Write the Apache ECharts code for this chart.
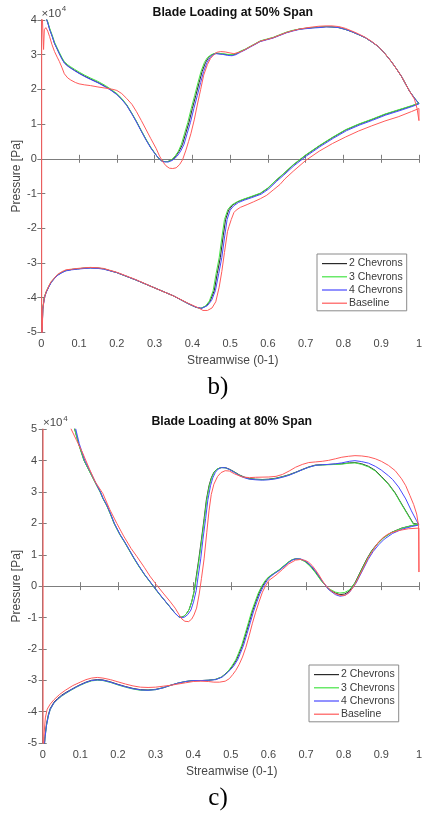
<!DOCTYPE html>
<html>
<head>
<meta charset="utf-8">
<script src="https://cdn.jsdelivr.net/npm/echarts@6/dist/echarts.min.js"></script>
<style>
  html, body { margin: 0; padding: 0; background: #ffffff; }
  #chart { width: 425px; height: 817px; }
</style>
</head>
<body>
<div id="chart"></div>
<script>
// ---------------------------------------------------------------
// Blade loading data: static pressure (x10^4 Pa) against the
// streamwise coordinate (0-1). Each curve is a closed loop around
// the blade section: lower branch from leading to trailing edge,
// then back along the upper branch.
// ---------------------------------------------------------------
const seriesNames = ['2 Chevrons', '3 Chevrons', '4 Chevrons', 'Baseline'];
const streamwiseTicks = [0, 0.1, 0.2, 0.3, 0.4, 0.5, 0.6, 0.7, 0.8, 0.9, 1];
const pressureTicks50 = [-5, -4, -3, -2, -1, 0, 1, 2, 3, 4];
const pressureTicks80 = [-5, -4, -3, -2, -1, 0, 1, 2, 3, 4, 5];
const panelTitles = ['Blade Loading at 50% Span', 'Blade Loading at 80% Span'];
const panelCaptions = ['b)', 'c)'];
const xAxisName = 'Streamwise (0-1)';
const yAxisName = 'Pressure [Pa]';

// ----- 50% span -----
const chev2_span50 = [
  [0.001,-5.4],[0.004,-4.32],[0.008,-4.0],[0.013,-3.84],[0.02,-3.68],[0.026,-3.56],[0.035,-3.44],[0.043,-3.35],
  [0.055,-3.27],[0.065,-3.22],[0.08,-3.19],[0.096,-3.17],[0.115,-3.15],[0.13,-3.14],[0.15,-3.15],[0.165,-3.17],
  [0.2,-3.28],[0.25,-3.49],[0.3,-3.72],[0.35,-3.95],[0.39,-4.18],[0.41,-4.28],[0.423,-4.31],[0.437,-4.24],
  [0.447,-4.1],[0.458,-3.8],[0.466,-3.3],[0.474,-2.85],[0.482,-2.2],[0.488,-1.75],[0.496,-1.48],[0.506,-1.34],
  [0.52,-1.24],[0.536,-1.17],[0.555,-1.1],[0.58,-1.0],[0.6,-0.85],[0.62,-0.64],[0.64,-0.45],[0.667,-0.18],
  [0.7,0.1],[0.736,0.37],[0.771,0.61],[0.806,0.83],[0.84,0.99],[0.875,1.13],[0.91,1.28],[0.945,1.4],[0.98,1.52],[1.0,1.6],
  [0.997,1.62],[0.988,1.75],[0.975,1.95],[0.965,2.15],[0.954,2.37],[0.94,2.6],[0.927,2.8],[0.91,3.03],[0.893,3.23],
  [0.875,3.37],[0.858,3.49],[0.84,3.58],[0.823,3.66],[0.805,3.73],[0.788,3.78],[0.77,3.8],[0.754,3.81],[0.735,3.79],
  [0.719,3.78],[0.7,3.76],[0.684,3.74],[0.665,3.69],[0.649,3.64],[0.63,3.56],[0.614,3.49],[0.597,3.44],[0.58,3.39],
  [0.565,3.3],[0.553,3.23],[0.54,3.15],[0.527,3.09],[0.515,3.02],[0.505,2.99],[0.493,3.0],[0.48,3.02],[0.47,3.03],
  [0.461,3.04],[0.452,3.0],[0.443,2.92],[0.435,2.78],[0.426,2.52],[0.418,2.2],[0.409,1.82],[0.4,1.45],[0.391,1.05],
  [0.382,0.72],[0.374,0.42],[0.365,0.22],[0.357,0.09],[0.346,-0.03],[0.335,-0.08],[0.325,-0.08],[0.317,-0.05],
  [0.308,0.05],[0.3,0.17],[0.29,0.32],[0.278,0.54],[0.265,0.8],[0.252,1.07],[0.24,1.3],[0.226,1.55],[0.213,1.72],
  [0.2,1.86],[0.185,1.98],[0.17,2.08],[0.15,2.2],[0.13,2.3],[0.115,2.38],[0.1,2.47],[0.088,2.55],[0.078,2.62],
  [0.07,2.68],[0.061,2.77],[0.055,2.88],[0.048,3.03],[0.042,3.17],[0.035,3.33],[0.029,3.53],[0.022,3.74],
  [0.017,3.93],[0.013,4.05],[0.009,4.3]
];
const chev3_span50 = [
  [0.001,-5.4],[0.004,-4.3],[0.008,-3.98],[0.013,-3.83],[0.02,-3.67],[0.026,-3.55],[0.035,-3.44],[0.043,-3.35],
  [0.055,-3.27],[0.065,-3.22],[0.08,-3.19],[0.096,-3.17],[0.115,-3.15],[0.13,-3.14],[0.15,-3.15],[0.165,-3.17],
  [0.2,-3.28],[0.25,-3.49],[0.3,-3.72],[0.35,-3.95],[0.39,-4.18],[0.41,-4.28],[0.422,-4.31],[0.435,-4.24],
  [0.445,-4.1],[0.455,-3.8],[0.463,-3.3],[0.471,-2.85],[0.479,-2.2],[0.485,-1.75],[0.494,-1.46],[0.504,-1.33],
  [0.52,-1.23],[0.536,-1.16],[0.555,-1.09],[0.58,-0.99],[0.6,-0.84],[0.62,-0.63],[0.64,-0.44],[0.667,-0.17],
  [0.7,0.11],[0.736,0.38],[0.771,0.62],[0.806,0.84],[0.84,1.0],[0.875,1.14],[0.91,1.29],[0.945,1.41],[0.98,1.53],[1.0,1.6],
  [0.997,1.62],[0.988,1.75],[0.975,1.95],[0.965,2.15],[0.954,2.37],[0.94,2.6],[0.927,2.8],[0.91,3.03],[0.893,3.23],
  [0.875,3.37],[0.858,3.49],[0.84,3.58],[0.823,3.66],[0.805,3.73],[0.788,3.78],[0.77,3.8],[0.754,3.81],[0.735,3.79],
  [0.719,3.78],[0.7,3.76],[0.684,3.74],[0.665,3.7],[0.649,3.65],[0.63,3.57],[0.614,3.5],[0.597,3.45],[0.58,3.4],
  [0.565,3.31],[0.553,3.24],[0.54,3.16],[0.527,3.1],[0.515,3.03],[0.505,3.0],[0.493,3.01],[0.48,3.03],[0.47,3.04],
  [0.461,3.04],[0.45,3.0],[0.44,2.92],[0.432,2.78],[0.423,2.52],[0.415,2.2],[0.406,1.82],[0.397,1.45],[0.388,1.05],
  [0.379,0.72],[0.371,0.42],[0.363,0.22],[0.355,0.09],[0.345,-0.03],[0.335,-0.08],[0.325,-0.08],[0.317,-0.05],
  [0.308,0.05],[0.3,0.17],[0.29,0.33],[0.278,0.55],[0.265,0.81],[0.252,1.08],[0.24,1.31],[0.226,1.56],[0.213,1.74],
  [0.2,1.88],[0.185,2.0],[0.17,2.11],[0.15,2.23],[0.13,2.33],[0.115,2.41],[0.1,2.5],[0.088,2.58],[0.078,2.65],
  [0.07,2.71],[0.061,2.8],[0.055,2.91],[0.048,3.06],[0.042,3.2],[0.035,3.36],[0.029,3.56],[0.022,3.77],
  [0.017,3.95],[0.013,4.07],[0.009,4.3]
];
const chev4_span50 = [
  [0.001,-5.4],[0.004,-4.34],[0.008,-4.02],[0.013,-3.85],[0.02,-3.69],[0.026,-3.57],[0.035,-3.45],[0.043,-3.36],
  [0.055,-3.28],[0.065,-3.23],[0.08,-3.2],[0.096,-3.18],[0.115,-3.16],[0.13,-3.15],[0.15,-3.16],[0.165,-3.18],
  [0.2,-3.28],[0.25,-3.49],[0.3,-3.72],[0.35,-3.95],[0.39,-4.18],[0.41,-4.28],[0.425,-4.31],[0.44,-4.23],
  [0.451,-4.08],[0.461,-3.8],[0.47,-3.3],[0.478,-2.85],[0.486,-2.2],[0.492,-1.75],[0.5,-1.48],[0.509,-1.36],
  [0.522,-1.26],[0.538,-1.19],[0.557,-1.12],[0.582,-1.02],[0.602,-0.87],[0.622,-0.66],[0.642,-0.47],[0.669,-0.2],
  [0.702,0.08],[0.738,0.35],[0.773,0.59],[0.808,0.81],[0.842,0.97],[0.877,1.11],[0.912,1.26],[0.947,1.38],[0.98,1.5],[1.0,1.58],
  [0.997,1.62],[0.988,1.75],[0.975,1.95],[0.965,2.15],[0.954,2.37],[0.94,2.6],[0.927,2.8],[0.91,3.03],[0.893,3.23],
  [0.875,3.37],[0.858,3.49],[0.84,3.58],[0.823,3.66],[0.805,3.73],[0.788,3.78],[0.77,3.8],[0.754,3.8],[0.735,3.78],
  [0.719,3.77],[0.7,3.75],[0.684,3.73],[0.665,3.68],[0.649,3.63],[0.63,3.55],[0.614,3.48],[0.597,3.43],[0.58,3.38],
  [0.565,3.29],[0.553,3.22],[0.54,3.14],[0.527,3.07],[0.515,3.0],[0.505,2.97],[0.493,2.98],[0.48,3.01],[0.47,3.02],
  [0.463,3.03],[0.455,3.0],[0.447,2.92],[0.439,2.78],[0.43,2.52],[0.422,2.2],[0.413,1.82],[0.404,1.45],[0.395,1.05],
  [0.386,0.72],[0.378,0.42],[0.369,0.22],[0.36,0.08],[0.348,-0.04],[0.337,-0.09],[0.327,-0.09],[0.318,-0.06],
  [0.309,0.04],[0.3,0.16],[0.29,0.31],[0.278,0.53],[0.265,0.79],[0.252,1.06],[0.24,1.29],[0.226,1.54],[0.213,1.71],
  [0.2,1.85],[0.185,1.97],[0.17,2.07],[0.15,2.19],[0.13,2.29],[0.115,2.37],[0.1,2.46],[0.088,2.54],[0.078,2.61],
  [0.07,2.67],[0.061,2.76],[0.055,2.87],[0.048,3.02],[0.042,3.16],[0.035,3.32],[0.029,3.52],[0.022,3.73],
  [0.017,3.92],[0.013,4.04],[0.009,4.3]
];
const base_span50 = [
  [0.001,-5.6],[0.001,4.6],[0.005,4.6],[0.006,3.15],[0.008,3.72],[0.012,3.78],[0.017,3.68],[0.022,3.52],[0.028,3.3],
  [0.035,3.09],[0.042,2.93],[0.048,2.8],[0.055,2.62],[0.061,2.45],[0.07,2.33],[0.078,2.27],[0.09,2.2],[0.1,2.16],
  [0.115,2.13],[0.13,2.11],[0.15,2.07],[0.174,2.03],[0.19,2.0],[0.2,1.97],[0.213,1.88],[0.226,1.74],[0.24,1.57],
  [0.252,1.36],[0.265,1.1],[0.278,0.83],[0.29,0.58],[0.304,0.3],[0.313,0.08],[0.322,-0.09],[0.33,-0.2],[0.339,-0.27],
  [0.348,-0.28],[0.357,-0.26],[0.366,-0.17],[0.374,-0.03],[0.383,0.25],[0.39,0.5],[0.396,0.72],[0.405,1.12],
  [0.413,1.55],[0.422,2.0],[0.43,2.41],[0.44,2.72],[0.448,2.89],[0.457,3.0],[0.465,3.07],[0.475,3.09],[0.487,3.08],
  [0.5,3.05],[0.51,3.03],[0.527,3.08],[0.54,3.15],[0.553,3.23],[0.565,3.3],[0.58,3.39],[0.597,3.44],[0.614,3.49],
  [0.63,3.56],[0.649,3.64],[0.665,3.69],[0.684,3.74],[0.7,3.77],[0.719,3.8],[0.735,3.82],[0.754,3.83],[0.77,3.83],
  [0.788,3.81],[0.805,3.76],[0.823,3.68],[0.84,3.6],[0.858,3.5],[0.875,3.38],[0.893,3.23],[0.91,3.03],[0.927,2.8],
  [0.94,2.6],[0.954,2.37],[0.965,2.15],[0.975,1.95],[0.988,1.72],[0.995,1.45],[1.0,1.1],
  [1.0,1.45],[0.98,1.36],[0.945,1.21],[0.91,1.09],[0.875,0.95],[0.84,0.8],[0.806,0.63],[0.771,0.44],[0.736,0.22],
  [0.701,-0.04],[0.667,-0.36],[0.645,-0.58],[0.632,-0.74],[0.614,-0.9],[0.597,-1.05],[0.58,-1.15],[0.562,-1.24],
  [0.545,-1.32],[0.527,-1.4],[0.516,-1.48],[0.51,-1.55],[0.503,-1.75],[0.497,-1.95],[0.493,-2.1],[0.485,-2.7],
  [0.478,-3.25],[0.471,-3.7],[0.462,-4.12],[0.452,-4.3],[0.44,-4.37],[0.428,-4.37],[0.417,-4.3],[0.39,-4.17],
  [0.35,-3.95],[0.3,-3.72],[0.25,-3.48],[0.2,-3.27],[0.165,-3.16],[0.15,-3.14],[0.13,-3.13],[0.115,-3.14],
  [0.096,-3.16],[0.08,-3.18],[0.065,-3.2],[0.055,-3.25],[0.043,-3.33],[0.035,-3.43],[0.026,-3.54],[0.02,-3.66],
  [0.013,-3.83],[0.008,-4.0],[0.004,-4.35],[0.001,-5.6]
];

// ----- 80% span -----
const chev2_span80 = [
  [0.003,-5.3],[0.006,-4.8],[0.01,-4.4],[0.015,-4.1],[0.02,-3.9],[0.03,-3.7],[0.04,-3.58],[0.05,-3.48],[0.06,-3.4],
  [0.075,-3.3],[0.09,-3.2],[0.1,-3.14],[0.115,-3.06],[0.13,-3.0],[0.145,-2.98],[0.16,-2.99],[0.18,-3.05],[0.2,-3.13],
  [0.22,-3.2],[0.24,-3.26],[0.26,-3.3],[0.28,-3.31],[0.3,-3.29],[0.32,-3.24],[0.34,-3.16],[0.36,-3.09],[0.38,-3.04],
  [0.4,-3.01],[0.42,-3.01],[0.44,-3.0],[0.46,-2.97],[0.475,-2.9],[0.49,-2.75],[0.504,-2.56],[0.515,-2.35],
  [0.522,-2.15],[0.531,-1.88],[0.54,-1.52],[0.549,-1.15],[0.557,-0.82],[0.566,-0.51],[0.575,-0.22],[0.584,0.0],
  [0.593,0.17],[0.601,0.29],[0.614,0.4],[0.628,0.51],[0.642,0.65],[0.654,0.77],[0.663,0.84],[0.672,0.87],
  [0.685,0.86],[0.698,0.79],[0.712,0.64],[0.725,0.45],[0.743,0.15],[0.76,-0.1],[0.778,-0.22],[0.79,-0.27],
  [0.803,-0.25],[0.815,-0.16],[0.831,0.13],[0.848,0.55],[0.862,0.88],[0.875,1.14],[0.89,1.36],[0.905,1.54],
  [0.928,1.72],[0.954,1.85],[0.981,1.93],[1.0,1.97],
  [0.998,1.93],[0.985,2.0],[0.97,2.3],[0.954,2.62],[0.937,2.97],[0.919,3.26],[0.9,3.5],[0.884,3.69],[0.866,3.82],
  [0.848,3.9],[0.83,3.94],[0.815,3.93],[0.795,3.9],[0.778,3.89],[0.76,3.88],[0.743,3.87],[0.725,3.86],[0.707,3.8],
  [0.69,3.72],[0.672,3.63],[0.654,3.55],[0.637,3.49],[0.619,3.44],[0.6,3.41],[0.584,3.4],[0.566,3.41],[0.549,3.43],
  [0.535,3.48],[0.522,3.55],[0.51,3.64],[0.496,3.73],[0.485,3.78],[0.473,3.78],[0.462,3.72],[0.455,3.63],
  [0.448,3.45],[0.442,3.2],[0.435,2.75],[0.429,2.15],[0.422,1.5],[0.415,0.87],[0.408,0.3],[0.403,-0.14],
  [0.396,-0.5],[0.389,-0.75],[0.382,-0.88],[0.375,-0.96],[0.368,-0.99],[0.362,-0.98],[0.35,-0.84],[0.34,-0.69],
  [0.327,-0.5],[0.31,-0.25],[0.294,0.0],[0.27,0.38],[0.255,0.65],[0.242,0.9],[0.23,1.15],[0.218,1.4],[0.205,1.65],
  [0.19,2.0],[0.18,2.3],[0.17,2.58],[0.16,2.8],[0.153,3.0],[0.14,3.3],[0.125,3.65],[0.11,4.0],[0.095,4.55],
  [0.083,5.1],[0.07,5.6],[0.05,6.4]
];
const chev3_span80 = [
  [0.003,-5.3],[0.006,-4.85],[0.01,-4.45],[0.015,-4.14],[0.02,-3.93],[0.03,-3.73],[0.04,-3.61],[0.05,-3.51],[0.06,-3.43],
  [0.075,-3.32],[0.09,-3.22],[0.1,-3.16],[0.115,-3.08],[0.13,-3.02],[0.145,-3.0],[0.16,-3.01],[0.18,-3.07],[0.2,-3.15],
  [0.22,-3.22],[0.24,-3.28],[0.26,-3.32],[0.28,-3.32],[0.3,-3.3],[0.32,-3.24],[0.34,-3.16],[0.36,-3.09],[0.38,-3.04],
  [0.4,-3.01],[0.42,-3.01],[0.44,-3.0],[0.46,-2.97],[0.475,-2.9],[0.49,-2.76],[0.502,-2.56],[0.513,-2.35],
  [0.52,-2.15],[0.529,-1.88],[0.538,-1.52],[0.547,-1.15],[0.555,-0.82],[0.564,-0.51],[0.573,-0.22],[0.582,0.0],
  [0.591,0.17],[0.6,0.29],[0.613,0.4],[0.627,0.51],[0.641,0.65],[0.653,0.77],[0.662,0.84],[0.671,0.87],
  [0.684,0.86],[0.697,0.78],[0.711,0.63],[0.724,0.44],[0.742,0.14],[0.76,-0.08],[0.778,-0.19],[0.79,-0.22],
  [0.803,-0.2],[0.815,-0.12],[0.832,0.13],[0.849,0.55],[0.863,0.88],[0.876,1.14],[0.891,1.36],[0.906,1.54],
  [0.929,1.72],[0.955,1.85],[0.981,1.93],[1.0,1.97],
  [0.998,1.93],[0.985,1.98],[0.97,2.28],[0.954,2.6],[0.937,2.95],[0.919,3.24],[0.9,3.48],[0.884,3.67],[0.866,3.8],
  [0.848,3.88],[0.83,3.93],[0.815,3.92],[0.795,3.89],[0.778,3.88],[0.76,3.87],[0.743,3.86],[0.725,3.85],[0.707,3.79],
  [0.69,3.71],[0.672,3.62],[0.654,3.54],[0.637,3.48],[0.619,3.43],[0.6,3.4],[0.584,3.39],[0.566,3.4],[0.549,3.42],
  [0.535,3.47],[0.522,3.54],[0.51,3.63],[0.496,3.72],[0.485,3.77],[0.474,3.78],[0.463,3.73],[0.456,3.63],
  [0.449,3.45],[0.443,3.2],[0.436,2.75],[0.43,2.15],[0.423,1.5],[0.416,0.87],[0.409,0.3],[0.403,-0.14],
  [0.396,-0.5],[0.389,-0.75],[0.382,-0.88],[0.375,-0.96],[0.368,-0.99],[0.362,-0.98],[0.35,-0.84],[0.34,-0.69],
  [0.327,-0.5],[0.31,-0.26],[0.294,-0.01],[0.27,0.37],[0.255,0.64],[0.242,0.89],[0.23,1.14],[0.218,1.39],[0.205,1.64],
  [0.19,1.99],[0.18,2.29],[0.17,2.57],[0.16,2.79],[0.153,2.99],[0.14,3.29],[0.125,3.64],[0.11,4.0],[0.095,4.55],
  [0.083,5.1],[0.07,5.6],[0.05,6.4]
];
const chev4_span80 = [
  [0.003,-5.3],[0.006,-4.85],[0.01,-4.45],[0.015,-4.14],[0.02,-3.93],[0.03,-3.72],[0.04,-3.6],[0.05,-3.5],[0.06,-3.42],
  [0.075,-3.31],[0.09,-3.21],[0.1,-3.15],[0.115,-3.07],[0.13,-3.01],[0.145,-2.99],[0.16,-3.0],[0.18,-3.06],[0.2,-3.14],
  [0.22,-3.21],[0.24,-3.27],[0.26,-3.31],[0.28,-3.32],[0.3,-3.3],[0.32,-3.24],[0.34,-3.16],[0.36,-3.09],[0.38,-3.04],
  [0.4,-3.01],[0.42,-3.01],[0.44,-3.0],[0.46,-2.98],[0.477,-2.9],[0.492,-2.75],[0.507,-2.56],[0.518,-2.35],
  [0.525,-2.15],[0.534,-1.88],[0.543,-1.52],[0.552,-1.15],[0.56,-0.82],[0.569,-0.51],[0.578,-0.22],[0.587,0.0],
  [0.596,0.17],[0.604,0.29],[0.616,0.4],[0.63,0.51],[0.644,0.65],[0.656,0.77],[0.665,0.84],[0.674,0.87],
  [0.687,0.86],[0.7,0.79],[0.714,0.64],[0.727,0.45],[0.745,0.13],[0.762,-0.13],[0.778,-0.27],[0.79,-0.32],
  [0.802,-0.3],[0.815,-0.2],[0.833,0.1],[0.851,0.52],[0.865,0.85],[0.878,1.1],[0.893,1.32],[0.908,1.5],
  [0.93,1.68],[0.956,1.82],[0.981,1.9],[1.0,1.95],
  [0.998,1.95],[0.993,2.1],[0.98,2.4],[0.965,2.78],[0.946,3.16],[0.93,3.4],[0.919,3.52],[0.9,3.7],[0.884,3.82],
  [0.866,3.92],[0.848,3.97],[0.83,4.0],[0.815,3.98],[0.795,3.93],[0.778,3.9],[0.76,3.88],[0.743,3.87],[0.725,3.85],
  [0.707,3.79],[0.69,3.71],[0.672,3.62],[0.654,3.53],[0.637,3.47],[0.619,3.42],[0.6,3.39],[0.584,3.38],[0.566,3.39],
  [0.549,3.41],[0.535,3.46],[0.522,3.53],[0.51,3.62],[0.496,3.72],[0.487,3.77],[0.476,3.78],[0.466,3.73],[0.459,3.63],
  [0.452,3.45],[0.446,3.2],[0.439,2.75],[0.433,2.15],[0.426,1.5],[0.42,0.87],[0.413,0.3],[0.408,-0.14],
  [0.401,-0.5],[0.394,-0.76],[0.386,-0.9],[0.378,-0.98],[0.37,-1.01],[0.363,-0.99],[0.351,-0.85],[0.341,-0.7],
  [0.328,-0.51],[0.311,-0.26],[0.295,-0.01],[0.271,0.37],[0.256,0.64],[0.243,0.89],[0.231,1.14],[0.219,1.39],[0.206,1.64],
  [0.191,1.99],[0.181,2.29],[0.171,2.57],[0.161,2.79],[0.154,2.99],[0.141,3.29],[0.127,3.64],[0.112,4.0],[0.097,4.55],
  [0.086,5.1],[0.073,5.6],[0.053,6.4]
];
const base_span80 = [
  [0.05,6.0],[0.071,5.12],[0.09,4.65],[0.105,4.28],[0.124,3.74],[0.14,3.32],[0.16,2.95],[0.178,2.45],[0.197,2.0],
  [0.215,1.6],[0.235,1.2],[0.25,0.95],[0.27,0.6],[0.285,0.32],[0.302,0.05],[0.32,-0.22],[0.338,-0.48],[0.352,-0.7],
  [0.362,-0.9],[0.37,-1.05],[0.378,-1.12],[0.388,-1.13],[0.396,-1.05],[0.402,-0.92],[0.409,-0.7],[0.416,-0.25],
  [0.422,0.25],[0.429,0.87],[0.436,1.7],[0.442,2.4],[0.448,2.92],[0.455,3.25],[0.465,3.5],[0.474,3.62],[0.485,3.68],
  [0.496,3.67],[0.51,3.58],[0.53,3.48],[0.55,3.46],[0.566,3.47],[0.601,3.48],[0.62,3.5],[0.637,3.56],[0.655,3.67],
  [0.672,3.79],[0.69,3.88],[0.707,3.94],[0.725,3.96],[0.743,3.98],[0.76,4.01],[0.778,4.06],[0.795,4.11],[0.813,4.14],
  [0.83,4.16],[0.848,4.15],[0.866,4.12],[0.884,4.06],[0.9,3.98],[0.919,3.85],[0.937,3.68],[0.954,3.42],[0.965,3.2],
  [0.976,2.89],[0.986,2.6],[0.994,2.3],[0.999,1.93],[1.0,0.45],
  [1.0,1.85],[0.972,1.83],[0.945,1.77],[0.919,1.67],[0.905,1.55],[0.892,1.4],[0.88,1.18],[0.866,0.92],[0.853,0.6],
  [0.84,0.29],[0.831,0.08],[0.822,-0.09],[0.813,-0.22],[0.804,-0.29],[0.795,-0.3],[0.787,-0.28],[0.778,-0.24],
  [0.769,-0.17],[0.76,-0.07],[0.751,0.04],[0.743,0.18],[0.734,0.36],[0.725,0.52],[0.716,0.66],[0.707,0.76],
  [0.698,0.82],[0.685,0.85],[0.672,0.83],[0.654,0.71],[0.637,0.53],[0.62,0.35],[0.601,0.18],[0.592,0.0],
  [0.584,-0.19],[0.575,-0.5],[0.566,-0.83],[0.557,-1.2],[0.549,-1.57],[0.54,-1.95],[0.531,-2.26],[0.522,-2.5],
  [0.513,-2.69],[0.505,-2.82],[0.496,-2.95],[0.485,-3.03],[0.47,-3.06],[0.455,-3.06],[0.44,-3.04],[0.42,-3.03],
  [0.4,-3.04],[0.38,-3.08],[0.36,-3.12],[0.34,-3.16],[0.32,-3.19],[0.3,-3.22],[0.28,-3.23],[0.26,-3.22],
  [0.24,-3.18],[0.22,-3.12],[0.2,-3.05],[0.18,-2.98],[0.16,-2.93],[0.145,-2.91],[0.13,-2.93],[0.115,-2.98],
  [0.1,-3.06],[0.08,-3.17],[0.06,-3.32],[0.045,-3.45],[0.03,-3.62],[0.02,-3.76],[0.012,-3.92],[0.007,-4.2],
  [0.003,-4.8],[0.001,-5.6],[0.001,6.6],[0.05,6.0]
];

const panels = [
  { data: [chev2_span50, chev3_span50, chev4_span50, base_span50], yTicks: pressureTicks50 },
  { data: [chev2_span80, chev3_span80, chev4_span80, base_span80], yTicks: pressureTicks80 }
];

// ---------------------------------------------------------------
// Layout and styling
// ---------------------------------------------------------------
const lineColors = ['#2a2a2a', '#45e445', '#4848ff', '#ff5a5a'];
const frameColor = '#7d7d7d';
const labelColor = '#474747';
const sansFont = '"Liberation Sans", Arial, Helvetica, sans-serif';
const serifFont = '"Liberation Serif", "Times New Roman", serif';

const layout = [
  { grid: { left: 41.3, top: 20, width: 383, height: 312.3 },
    legend: { left: 317, top: 254 }, labelMargin: 4.5 },
  { grid: { left: 42.7, top: 429.3, width: 378, height: 313.7 },
    legend: { left: 309, top: 665 }, labelMargin: 5.5 }
];

const fmt = v => String(parseFloat(Number(v).toFixed(1)));

const grids = [], xAxes = [], yAxes = [], series = [], legends = [], graphics = [];

panels.forEach((panel, p) => {
  const L = layout[p];
  grids.push(Object.assign({ containLabel: false }, L.grid));
  const xMin = streamwiseTicks[0], xMax = streamwiseTicks[streamwiseTicks.length - 1];
  const xInt = streamwiseTicks[1] - streamwiseTicks[0];
  const yMin = panel.yTicks[0], yMax = panel.yTicks[panel.yTicks.length - 1];
  const yInt = panel.yTicks[1] - panel.yTicks[0];
  const common = {
    type: 'value', gridIndex: p,
    axisLine: { show: true, lineStyle: { color: frameColor, width: 1 } },
    axisTick: { show: true, inside: true, length: 4, lineStyle: { color: frameColor } },
    splitLine: { show: false }
  };
  // bottom and top streamwise axes
  xAxes.push(Object.assign({}, common, {
    position: 'bottom', min: xMin, max: xMax, interval: xInt,
    axisLabel: { color: labelColor, fontSize: 11, fontFamily: sansFont, margin: 6, formatter: fmt }
  }));
  xAxes.push(Object.assign({}, common, {
    position: 'top', min: xMin, max: xMax, interval: xInt, axisLabel: { show: false }
  }));
  // left and right pressure axes
  yAxes.push(Object.assign({}, common, {
    position: 'left', min: yMin, max: yMax, interval: yInt,
    axisLabel: { color: labelColor, fontSize: 11, fontFamily: sansFont, margin: L.labelMargin, formatter: fmt }
  }));
  yAxes.push(Object.assign({}, common, {
    position: 'right', min: yMin, max: yMax, interval: yInt, axisLabel: { show: false }
  }));

  panel.data.forEach((pts, k) => {
    series.push({
      name: seriesNames[k], type: 'line', data: pts,
      xAxisIndex: p * 2, yAxisIndex: p * 2,
      symbol: 'none', smooth: false, clip: true,
      lineStyle: { color: lineColors[k], width: 1 },
      itemStyle: { color: lineColors[k] },
      emphasis: { disabled: true }, z: 2 + k
    });
  });

  legends.push({
    data: seriesNames.map((n, k) => ({ name: n, icon: 'rect', itemStyle: { color: lineColors[k] } })),
    orient: 'vertical', left: L.legend.left, top: L.legend.top,
    itemWidth: 25, itemHeight: 1.2, itemGap: 0,
    padding: [3, 4, 1, 5],
    backgroundColor: '#ffffff', borderColor: '#8a8a8a', borderWidth: 1,
    textStyle: { color: '#3a3a3a', fontSize: 10.5, lineHeight: 13.2, fontFamily: sansFont, padding: [0, 0, 0, -3] },
    selectedMode: false
  });

  const g = L.grid;
  const cx = g.left + g.width / 2;
  const cy = g.top + g.height / 2;
  graphics.push(
    { type: 'text', x: cx, y: g.top - 7.5, z: 10,
      style: { text: panelTitles[p], align: 'center', verticalAlign: 'middle',
               fontSize: 12.3, fontWeight: 'bold', fontFamily: sansFont, fill: '#111' } },
    { type: 'text', x: g.left + 0.3, y: g.top - 6.5, z: 10,
      style: { text: '\u00d710', align: 'left', verticalAlign: 'middle',
               fontSize: 11.5, fontFamily: sansFont, fill: labelColor } },
    { type: 'text', x: g.left + 20.5, y: g.top - 11, z: 10,
      style: { text: '4', align: 'left', verticalAlign: 'middle',
               fontSize: 8, fontFamily: sansFont, fill: labelColor } },
    { type: 'text', x: cx, y: g.top + g.height + 28.5, z: 10,
      style: { text: xAxisName, align: 'center', verticalAlign: 'middle',
               fontSize: 12, fontFamily: sansFont, fill: labelColor } },
    { type: 'text', x: 17, y: cy, rotation: Math.PI / 2, z: 10,
      style: { text: yAxisName, align: 'center', verticalAlign: 'middle',
               fontSize: 12, fontFamily: sansFont, fill: labelColor } },
    { type: 'text', x: 218, y: g.top + g.height + 55, z: 10,
      style: { text: panelCaptions[p], align: 'center', verticalAlign: 'middle',
               fontSize: 25, fontFamily: serifFont, fill: '#000' } }
  );
});

const chart = echarts.init(document.getElementById('chart'), null, { renderer: 'canvas' });
chart.setOption({
  backgroundColor: '#ffffff',
  animation: false,
  grid: grids,
  xAxis: xAxes,
  yAxis: yAxes,
  legend: legends,
  series: series,
  graphic: graphics
});
</script>
</body>
</html>
